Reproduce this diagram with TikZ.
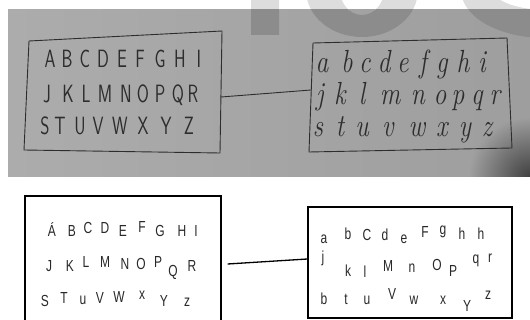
\documentclass[tikz,border=0pt]{standalone}
\usepackage{fontspec}
\usepackage{graphicx}
\newfontfamily\cadfont{Liberation Sans}
\definecolor{ink}{RGB}{45,45,45}
\definecolor{cadgray}{RGB}{40,40,40}
\definecolor{photoL}{RGB}{172,172,172}
\definecolor{photoR}{RGB}{158,158,158}
\definecolor{wmlight}{RGB}{221,221,221}
\definecolor{wmdark}{RGB}{140,140,140}

\begin{document}
\begin{tikzpicture}[x=1pt, y=-1pt,
    pen/.style={draw=ink, line width=0.9pt, line join=round, line cap=round},
    handcap/.style={text=ink, inner sep=0pt, anchor=base, font=\sffamily\fontsize{25}{25}\selectfont},
    handlow/.style={text=ink, inner sep=0pt, anchor=base, font=\itshape\fontsize{32}{32}\selectfont},
    cadbox/.style={draw=black, line width=1.3pt, inner sep=0pt},
    cadlet/.style={text=cadgray, inner sep=0pt, anchor=base, font=\cadfont\fontsize{16}{16}\selectfont},
    wmk/.style={even odd rule}
]
\useasboundingbox (0,0) rectangle (530,320);
\clip (0,0) rectangle (530,320);

% photo of the hand sketch
\shade[left color=photoL, right color=photoR] (8,10) rectangle (530,177);
\begin{scope}
  \clip (8,10) rectangle (530,177);
  \shade[inner color=black!75, outer color=photoR] (530,177) circle (60pt);
\end{scope}

% watermark, light on the page and darker on the photo
\begin{scope}
  \clip (0,-60) rectangle (530,10);
  \fill[wmk, wmlight] (251,-5) rectangle (279,35)
    (362,-10) ellipse (56pt and 47pt) (362,-10) ellipse (22pt and 25pt)
    (545,-10) ellipse (84pt and 48pt) (548,-10) ellipse (55pt and 20pt);
\end{scope}
\begin{scope}
  \clip (8,10) rectangle (530,177);
  \fill[wmk, wmdark] (251,-5) rectangle (279,35)
    (362,-10) ellipse (56pt and 47pt) (362,-10) ellipse (22pt and 25pt)
    (545,-10) ellipse (84pt and 48pt) (548,-10) ellipse (55pt and 20pt);
\end{scope}

% hand drawn boxes
\draw[pen] (29,41) -- (222,31) -- (220,153) -- (24,150) -- cycle;
\draw[pen] (313,43) -- (507,38) -- (512,148) -- (309,152) -- cycle;
\coordinate (capR) at (221,97);
\coordinate (lowL) at (311,90);
\draw[pen] (capR) -- (lowL);

\foreach \lx/\lt in {50/A,67/B,85/C,103/D,122/E,140/F,160/G,180/H,199/I}
  \node[handcap] (u\lt) at (\lx,68) {\scalebox{0.7}[1]{\lt}};
\foreach \lx/\lt in {47/J,68/K,86/L,105/M,126/N,143/O,160/P,178/Q,193/R}
  \node[handcap] (u\lt) at (\lx,103) {\scalebox{0.7}[1]{\lt}};
\foreach \lx/\lt in {45/S,60/T,80/U,98/V,120/W,143/X,166/Y,189/Z}
  \node[handcap] (u\lt) at (\lx,135) {\scalebox{0.7}[1]{\lt}};

\foreach \lx/\lt in {322/a,347/b,365/c,384/d,403/e,423/f,442/g,463/h,482/i}
  \node[handlow] (l\lt) at (\lx,73) {\scalebox{0.8}[1]{\lt}};
\foreach \lx/\lt in {320/j,340/k,362/l,390/m,418/n,440/o,458/p,477/q,495/r}
  \node[handlow] (l\lt) at (\lx,105) {\scalebox{0.8}[1]{\lt}};
\foreach \lx/\lt in {318/s,340/t,362/u,388/v,417/w,442/x,465/y,487/z}
  \node[handlow] (l\lt) at (\lx,137) {\scalebox{0.8}[1]{\lt}};

% plotted version
\node[cadbox, minimum width=196pt, minimum height=134pt] (capbox) at (123,263) {};
\node[cadbox, minimum width=204pt, minimum height=111pt] (lowbox) at (410,262.5) {};
\draw[line width=1.3pt] ([xshift=6pt,yshift=-1pt]capbox.east) -- ([yshift=3.5pt]lowbox.west);

\foreach \lx/\ly/\lt [count=\i] in {52/237/Á,72/237/B,88/234/C,105/234/D,123/237/E,142/233/F,160/237/G,182/237/H,196/237/I,
    49/272/J,70/272/K,86/268/L,105/268/M,125/270/N,141/270/O,158/268/P,173/277/Q,192/272/R,
    45/306/S,64/304/T,83/305/u,100/304/V,119/302/W,142/300/x,164/307/Y,187/307/z}
  \node[cadlet] (c\i) at (\lx,\ly) {\scalebox{0.75}[1]{\lt}};

\foreach \lx/\ly/\lt [count=\i] in {324/244/a,348/240/b,367/241/C,385/241/d,404/244/e,425/238/F,443/235/g,462/240/h,481/240/h,
    323/263/j,348/277/k,365/278/l,388/272/M,412/273/n,437/271/O,453/277/P,476/264/q,490/263/r,
    324/305/b,346/305/t,367/305/u,392/300/V,414/305/w,443/305/x,467/312/Y,488/300/z}
  \node[cadlet] (s\i) at (\lx,\ly) {\scalebox{0.75}[1]{\lt}};
\end{tikzpicture}
\end{document}
